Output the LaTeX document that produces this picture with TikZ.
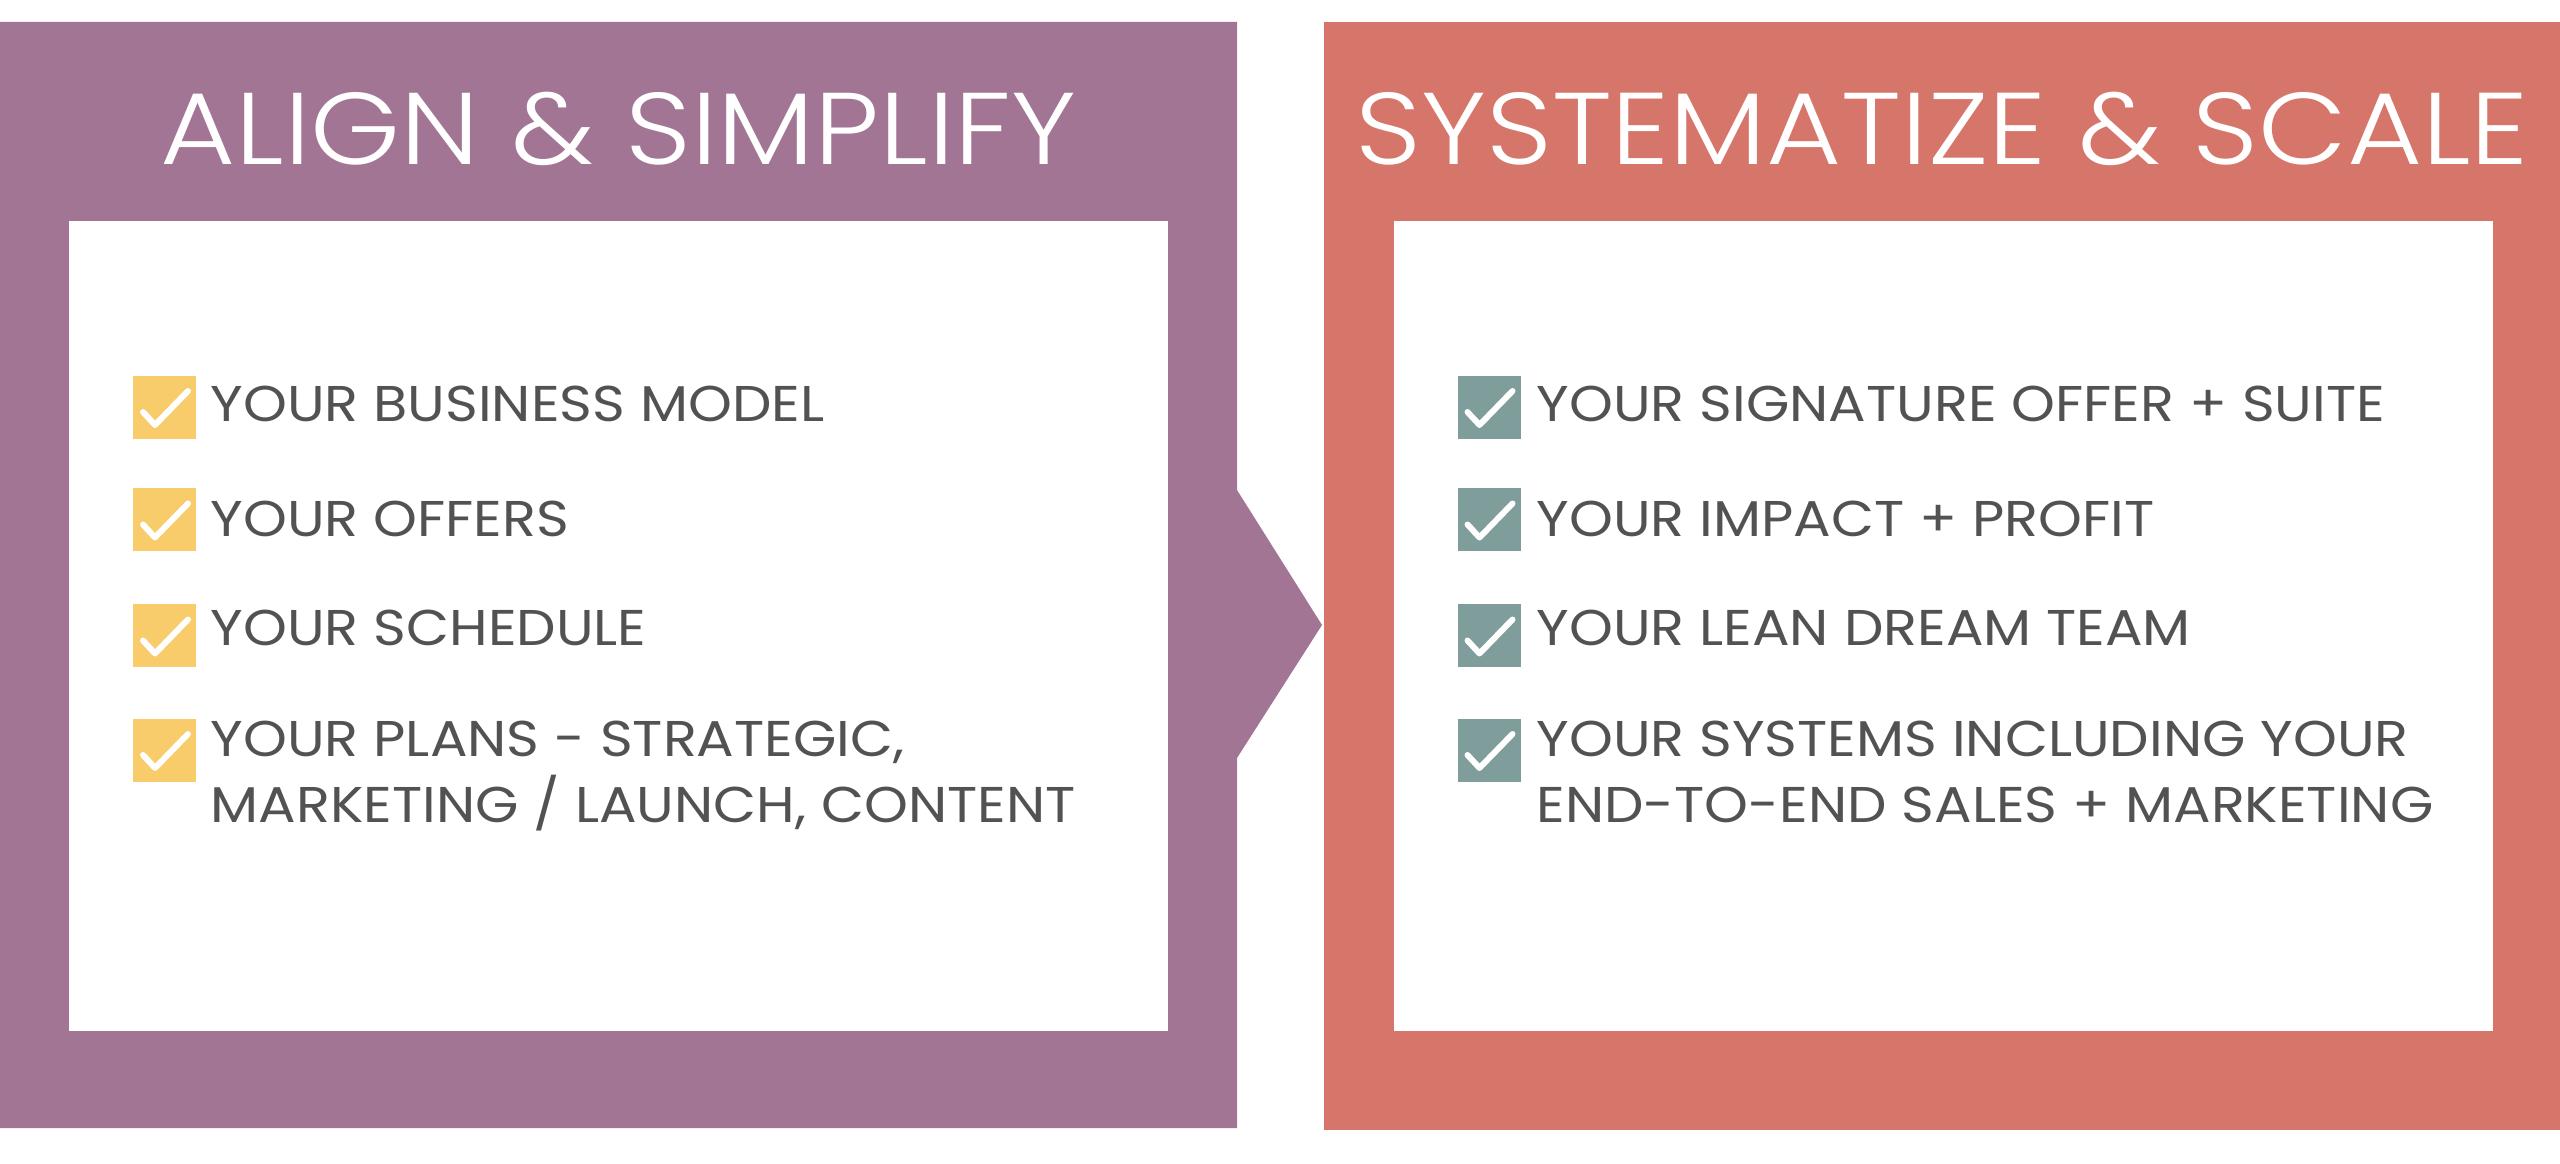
\documentclass[tikz,border=0pt]{standalone}
\usepackage{fontspec}
\setmainfont{Poppins}[FakeStretch=1.11]
\newfontfamily\titlefont{Poppins Light}[FakeStretch=1.13]
\usepackage{tikz}
\usetikzlibrary{positioning}
\definecolor{plum}{HTML}{A37594}
\definecolor{coral}{HTML}{D6756A}
\definecolor{mustard}{HTML}{F8CB6B}
\definecolor{sage}{HTML}{7E9D9B}
\definecolor{inkgray}{HTML}{525252}

\begin{document}
\begin{tikzpicture}[
    checkbox/.style={fill=#1, minimum size=0.63cm, inner sep=0pt, path picture={
        \draw[white, line width=1.7pt, line cap=round, line join=round]
            ([shift={(0.10cm,0.27cm)}]path picture bounding box.south west)
            -- ([shift={(0.22cm,0.14cm)}]path picture bounding box.south west)
            -- ([shift={(0.55cm,0.48cm)}]path picture bounding box.south west);}},
    item/.style={anchor=base west, align=left, text=inkgray, inner sep=0pt, font=\fontsize{14.3}{19}\selectfont},
    heading/.style={anchor=base, text=white, inner sep=0pt, font=\titlefont\fontsize{29}{34}\selectfont},
    inner/.style={fill=white, minimum width=10.99cm, minimum height=8.1cm, anchor=north west, inner sep=0pt},
]
\useasboundingbox (0,0) rectangle (25.6,-11.64);
% panels
\fill[plum] (0,-0.22) -- (12.37,-0.22) -- (12.37,-4.90) -- (13.22,-6.25) -- (12.37,-7.58)
    -- (12.37,-11.28) -- (0,-11.28) -- cycle;
\fill[coral] (13.24,-0.22) rectangle (25.6,-11.30);
\node[inner] (leftbox) at (0.68,-2.20) {};
\node[inner] (rightbox) at (13.93,-2.20) {};
\node[heading] (lefttitle) at (6.185,-1.65) {ALIGN \& SIMPLIFY};
\node[heading] (righttitle) at (19.42,-1.65) {SYSTEMATIZE \& SCALE};
% left list
\node[checkbox=mustard] (l1) at (1.645,-4.075) {};
\node[checkbox=mustard] (l2) at (1.645,-5.20) {};
\node[checkbox=mustard] (l3) at (1.645,-6.36) {};
\node[checkbox=mustard] (l4) at (1.645,-7.505) {};
\node[item] (lt1) at (2.10,-4.22) {YOUR BUSINESS MODEL};
\node[item] (lt2) at (2.10,-5.37) {YOUR OFFERS};
\node[item] (lt3) at (2.10,-6.46) {YOUR SCHEDULE};
\node[item] (lt4) at (2.10,-8.23) {YOUR PLANS - STRATEGIC,\\MARKETING / LAUNCH, CONTENT};
% right list
\node[checkbox=sage] (r1) at (14.89,-4.075) {};
\node[checkbox=sage] (r2) at (14.89,-5.20) {};
\node[checkbox=sage] (r3) at (14.89,-6.36) {};
\node[checkbox=sage] (r4) at (14.89,-7.505) {};
\node[item] (rt1) at (15.36,-4.22) {YOUR SIGNATURE OFFER + SUITE};
\node[item] (rt2) at (15.36,-5.37) {YOUR IMPACT + PROFIT};
\node[item] (rt3) at (15.36,-6.46) {YOUR LEAN DREAM TEAM};
\node[item] (rt4) at (15.36,-8.23) {YOUR SYSTEMS INCLUDING YOUR\\END-TO-END SALES + MARKETING};
\end{tikzpicture}
\end{document}
